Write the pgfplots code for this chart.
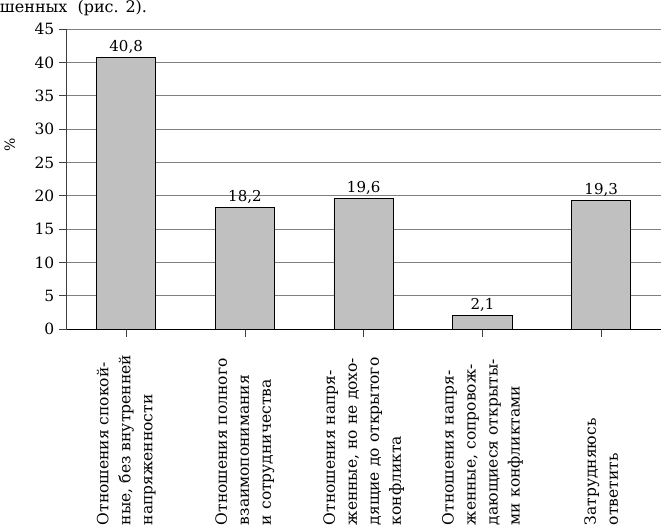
\documentclass[border=0pt]{standalone}
\usepackage{fontspec}
\setmainfont{DejaVu Serif}
\usepackage{pgfplots}
\pgfplotsset{compat=1.18}
\definecolor{barfill}{HTML}{C0C0C0}
\definecolor{gridc}{HTML}{808080}
\begin{document}
\begin{tikzpicture}
\begin{axis}[
  scale only axis, width=594pt, height=300pt,
  xmin=-0.5, xmax=4.5, ymin=0, ymax=45,
  ytick={0,5,...,45},
  xtick={0,1,2,3,4},
  xticklabels={
    {Отношения спокой-\\ные, без внутренней\\напряженности},
    {Отношения полного\\взаимопонимания\\и сотрудничества},
    {Отношения напря-\\женные, но не дохо-\\дящие до открытого\\конфликта},
    {Отношения напря-\\женные, сопровож-\\дающиеся открыты-\\ми конфликтами},
    {Затрудняюсь\\ответить}},
  axis x line*=bottom, axis y line*=left,
  x axis line style={black, line width=0.9pt},
  y axis line style={black!75, line width=0.9pt},
  ymajorgrids, grid style={gridc, line width=0.8pt},
  tick align=outside, major tick length=8pt,
  ytick style={black!75, line width=0.8pt},
  xtick style={black!75, line width=0.6pt},
  /pgf/number format/assume math mode=true,
  yticklabel style={font=\fontsize{15.5}{18}\selectfont, xshift=-1pt},
  xticklabel style={font=\fontsize{15.5}{22}\selectfont, rotate=90, anchor=east,
     text width=186pt, align=left, inner sep=2pt},
  ylabel={\%},
  every axis y label/.style={at={(axis description cs:0,0.613)}, xshift=-57pt,
     rotate=90, anchor=center, font=\fontsize{14}{16}\selectfont},
  clip=false,
]
\addplot[ybar, bar width=0.5, fill=barfill, draw=black, line width=0.9pt,
  nodes near coords={\pgfmathprintnumber[fixed,fixed zerofill,precision=1,use comma,assume math mode=true]{\pgfplotspointmeta}},
  every node near coord/.append style={font=\fontsize{15}{18}\selectfont, anchor=south, yshift=0pt}]
  coordinates {(0,40.8) (1,18.2) (2,19.6) (3,2.1) (4,19.3)};
\node[anchor=base west, font=\fontsize{16}{19}\selectfont, inner sep=0pt]
  at (rel axis cs:0,1) [xshift=-67pt, yshift=17pt] {шенных \ (рис. 2).};
\end{axis}
\end{tikzpicture}
\end{document}
